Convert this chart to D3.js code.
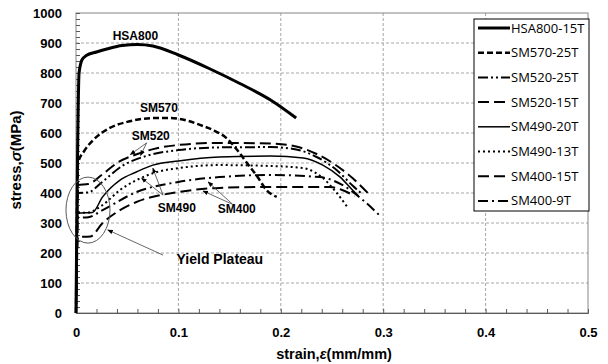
<!DOCTYPE html>
<html>
<head>
<meta charset="utf-8">
<script src="https://cdn.jsdelivr.net/npm/d3@7"></script>
<style>
  body { margin: 0; background: #fff; }
  text { font-family: Arial, "Liberation Sans", sans-serif; }
</style>
</head>
<body>
<div id="chart"></div>
<script>
// stress-strain curves
const strainHSA800 = [0, 0.003, 0.006, 0.01, 0.02, 0.03, 0.045, 0.06, 0.075, 0.1, 0.13, 0.16, 0.19, 0.215];
const stressHSA800 = [0, 800, 845, 858, 870, 880, 892, 895, 890, 860, 815, 765, 710, 650];

const strainSM570 = [0, 0.002, 0.008, 0.017, 0.033, 0.05, 0.065, 0.08, 0.092, 0.11, 0.121, 0.135, 0.147, 0.157, 0.167, 0.177, 0.186, 0.196];
const stressSM570 = [0, 500, 540, 577, 617, 637, 647, 650, 650, 640, 627, 608, 583, 545, 500, 455, 410, 387];

const strainSM520_25 = [0, 0.002, 0.012, 0.025, 0.045, 0.07, 0.1, 0.14, 0.19, 0.215, 0.235, 0.255, 0.27, 0.28];
const stressSM520_25 = [0, 400, 402, 435, 490, 525, 543, 552, 553, 545, 520, 475, 425, 395];

const strainSM520_15 = [0, 0.002, 0.012, 0.025, 0.04, 0.06, 0.08, 0.1, 0.14, 0.19, 0.215, 0.235, 0.255, 0.27, 0.285];
const stressSM520_15 = [0, 427, 430, 460, 500, 530, 550, 560, 567, 565, 555, 530, 490, 450, 400];

const strainSM490_20 = [0, 0.002, 0.016, 0.026, 0.043, 0.059, 0.075, 0.1, 0.14, 0.19, 0.222, 0.241, 0.258, 0.27, 0.276];
const stressSM490_20 = [0, 333, 335, 387, 443, 470, 493, 507, 520, 523, 517, 493, 453, 410, 390];

const strainSM490_13 = [0, 0.002, 0.012, 0.026, 0.043, 0.059, 0.079, 0.1, 0.14, 0.19, 0.222, 0.241, 0.254, 0.265];
const stressSM490_13 = [0, 333, 335, 360, 410, 443, 470, 483, 493, 490, 483, 450, 403, 353];

const strainSM400_15 = [0, 0.002, 0.014, 0.026, 0.043, 0.059, 0.1, 0.14, 0.19, 0.248, 0.26, 0.272];
const stressSM400_15 = [0, 253, 255, 300, 343, 370, 403, 417, 420, 420, 410, 390];

const strainSM400_9 = [0, 0.002, 0.012, 0.026, 0.059, 0.1, 0.14, 0.19, 0.238, 0.26, 0.28, 0.298];
const stressSM400_9 = [0, 317, 319, 343, 403, 437, 453, 460, 453, 427, 377, 320];

const seriesNames = ["HSA800-15T", "SM570-25T", "SM520-25T", "SM520-15T", "SM490-20T", "SM490-13T", "SM400-15T", "SM400-9T"];
const xTicks = [0, 0.1, 0.2, 0.3, 0.4, 0.5];
const yTicks = [0, 100, 200, 300, 400, 500, 600, 700, 800, 900, 1000];

// text notes on the plot, in data units
const noteText = ["HSA800", "SM570", "SM520", "SM490", "SM400"];
const noteX = [0.058, 0.081, 0.073, 0.0985, 0.157];
const noteY = [923, 683, 590, 350, 347];

const margin = {top: 13, right: 20, bottom: 51, left: 76};
const width = 608 - margin.left - margin.right;
const height = 364 - margin.top - margin.bottom;

const svg = d3.select("#chart")
    .append("svg")
    .attr("width", 608)
    .attr("height", 364)
    .append("g")
    .attr("transform", `translate(${margin.left},${margin.top})`);

const x = d3.scaleLinear().domain([0, 0.5]).range([0, width]);
const y = d3.scaleLinear().domain([0, 1000]).range([height, 0]);

// grid
svg.selectAll(".hgrid")
    .data(yTicks.slice(1, -1))
    .enter().append("line")
    .attr("x1", 0).attr("x2", width)
    .attr("y1", d => y(d)).attr("y2", d => y(d))
    .style("stroke", "#a6a6a6").style("stroke-dasharray", "3,2");

svg.selectAll(".vgrid")
    .data(xTicks.slice(1, -1))
    .enter().append("line")
    .attr("y1", 0).attr("y2", height)
    .attr("x1", d => x(d)).attr("x2", d => x(d))
    .style("stroke", "#a6a6a6").style("stroke-dasharray", "3,2");

// frame
svg.append("rect")
    .attr("width", width).attr("height", height)
    .style("fill", "none").style("stroke", "#868686");

// minor ticks inside
svg.append("g")
    .call(d3.axisLeft(y).tickValues(d3.range(0, 1001, 20)).tickSize(-4).tickFormat(""))
    .call(g => g.select(".domain").remove())
    .selectAll("line").style("stroke", "#595959");

svg.append("g")
    .attr("transform", `translate(0,${height})`)
    .call(d3.axisBottom(x).tickValues(d3.range(0, 0.501, 0.02)).tickSize(-4).tickFormat(""))
    .call(g => g.select(".domain").style("stroke", "#595959"))
    .selectAll("line").style("stroke", "#595959");

// tick labels
svg.append("g")
    .call(d3.axisLeft(y).tickValues(yTicks).tickSize(0).tickPadding(14).tickFormat(d3.format("d")))
    .call(g => g.select(".domain").remove())
    .selectAll("text")
    .style("font-size", "13px").style("font-weight", "bold").style("fill", "#000");

svg.append("g")
    .attr("transform", `translate(0,${height})`)
    .call(d3.axisBottom(x).tickValues(xTicks).tickSize(0).tickPadding(15).tickFormat(d => d === 0 ? "0" : d3.format(".1f")(d)))
    .call(g => g.select(".domain").remove())
    .selectAll("text")
    .style("font-size", "13px").style("font-weight", "bold").style("fill", "#000");

// axis titles
const yTitle = svg.append("text")
    .attr("transform", "rotate(-90)")
    .attr("x", -height / 2 + 3)
    .attr("y", -55)
    .style("text-anchor", "middle")
    .style("font-size", "15px").style("font-weight", "bold");
yTitle.append("tspan").text("stress,");
yTitle.append("tspan").style("font-style", "italic").text("σ");
yTitle.append("tspan").text("(MPa)");

const xTitle = svg.append("text")
    .attr("x", width / 2 + 2)
    .attr("y", height + 46)
    .style("text-anchor", "middle")
    .style("font-size", "14.5px").style("font-weight", "bold");
xTitle.append("tspan").text("strain,");
xTitle.append("tspan").style("font-style", "italic").text("ε");
xTitle.append("tspan").text("(mm/mm)");

// curves
const curves = [
    {strain: strainHSA800, stress: stressHSA800, w: 3, dash: null},
    {strain: strainSM570, stress: stressSM570, w: 2.5, dash: "6,3"},
    {strain: strainSM520_25, stress: stressSM520_25, w: 2, dash: "10,3,2,3,2,3"},
    {strain: strainSM520_15, stress: stressSM520_15, w: 2, dash: "11,5"},
    {strain: strainSM490_20, stress: stressSM490_20, w: 1.5, dash: null},
    {strain: strainSM490_13, stress: stressSM490_13, w: 2, dash: "2,3"},
    {strain: strainSM400_15, stress: stressSM400_15, w: 2, dash: "11,5"},
    {strain: strainSM400_9, stress: stressSM400_9, w: 2, dash: "10,4,2,4"}
];
curves.forEach((c, i) => c.name = seriesNames[i]);

const line = d3.line()
    .x(d => x(d[0]))
    .y(d => y(d[1]))
    .curve(d3.curveMonotoneX);

svg.selectAll(".curve")
    .data(curves)
    .enter().append("path")
    .attr("class", "curve")
    .attr("d", c => line(c.strain.map((s, i) => [s, c.stress[i]])))
    .style("fill", "none")
    .style("stroke", "#000")
    .style("stroke-width", c => c.w)
    .style("stroke-dasharray", c => c.dash);

// notes
svg.selectAll(".note")
    .data(noteText)
    .enter().append("text")
    .attr("x", (d, i) => x(noteX[i]))
    .attr("y", (d, i) => y(noteY[i]))
    .attr("dy", "0.35em")
    .style("text-anchor", "middle")
    .style("font-size", "12px").style("font-weight", "bold")
    .text(d => d);

svg.append("text")
    .attr("x", x(0.1405)).attr("y", y(180)).attr("dy", "0.35em")
    .style("text-anchor", "middle")
    .style("font-size", "14px").style("font-weight", "bold")
    .text("Yield Plateau");

// yield plateau ellipse
svg.append("ellipse")
    .attr("cx", x(0.0117)).attr("cy", y(343))
    .attr("rx", x(0.0215) - x(0)).attr("ry", y(0) - y(110))
    .style("fill", "none").style("stroke", "#595959");

// arrows
svg.append("defs").append("marker")
    .attr("id", "head")
    .attr("viewBox", "0 0 10 10")
    .attr("refX", 9).attr("refY", 5)
    .attr("markerWidth", 7).attr("markerHeight", 7)
    .attr("orient", "auto")
    .append("path").attr("d", "M0,1 L10,5 L0,9 z").style("fill", "#000");

const arrowFrom = [[0.069, 567], [0.069, 567], [0.085, 393], [0.085, 393], [0.153, 362], [0.153, 362], [0.085, 193]];
const arrowTo = [[0.053, 528], [0.063, 525], [0.064, 450], [0.075, 483], [0.129, 437], [0.124, 407], [0.031, 277]];

svg.selectAll(".arrow")
    .data(arrowFrom)
    .enter().append("line")
    .attr("x1", d => x(d[0])).attr("y1", d => y(d[1]))
    .attr("x2", (d, i) => x(arrowTo[i][0])).attr("y2", (d, i) => y(arrowTo[i][1]))
    .style("stroke", "#404040").style("stroke-width", 0.8)
    .attr("marker-end", "url(#head)");

// legend
const legend = svg.append("g").attr("transform", `translate(${474 - margin.left},${19 - margin.top})`);
legend.append("rect")
    .attr("width", 115).attr("height", 192)
    .style("fill", "#fff").style("stroke", "#000");

const item = legend.selectAll(".item")
    .data(curves)
    .enter().append("g")
    .attr("transform", (d, i) => `translate(0,${9 + i * 24.7})`);

item.append("line")
    .attr("x1", 4).attr("x2", 36)
    .style("stroke", "#000")
    .style("stroke-width", d => d.w)
    .style("stroke-dasharray", d => d.dash);

item.append("text")
    .attr("x", 37).attr("dy", "0.35em")
    .style("font-family", "'Liberation Sans Narrow', 'Open Sans', sans-serif")
    .style("font-size", "13px")
    .text(d => d.name);
</script>
</body>
</html>
